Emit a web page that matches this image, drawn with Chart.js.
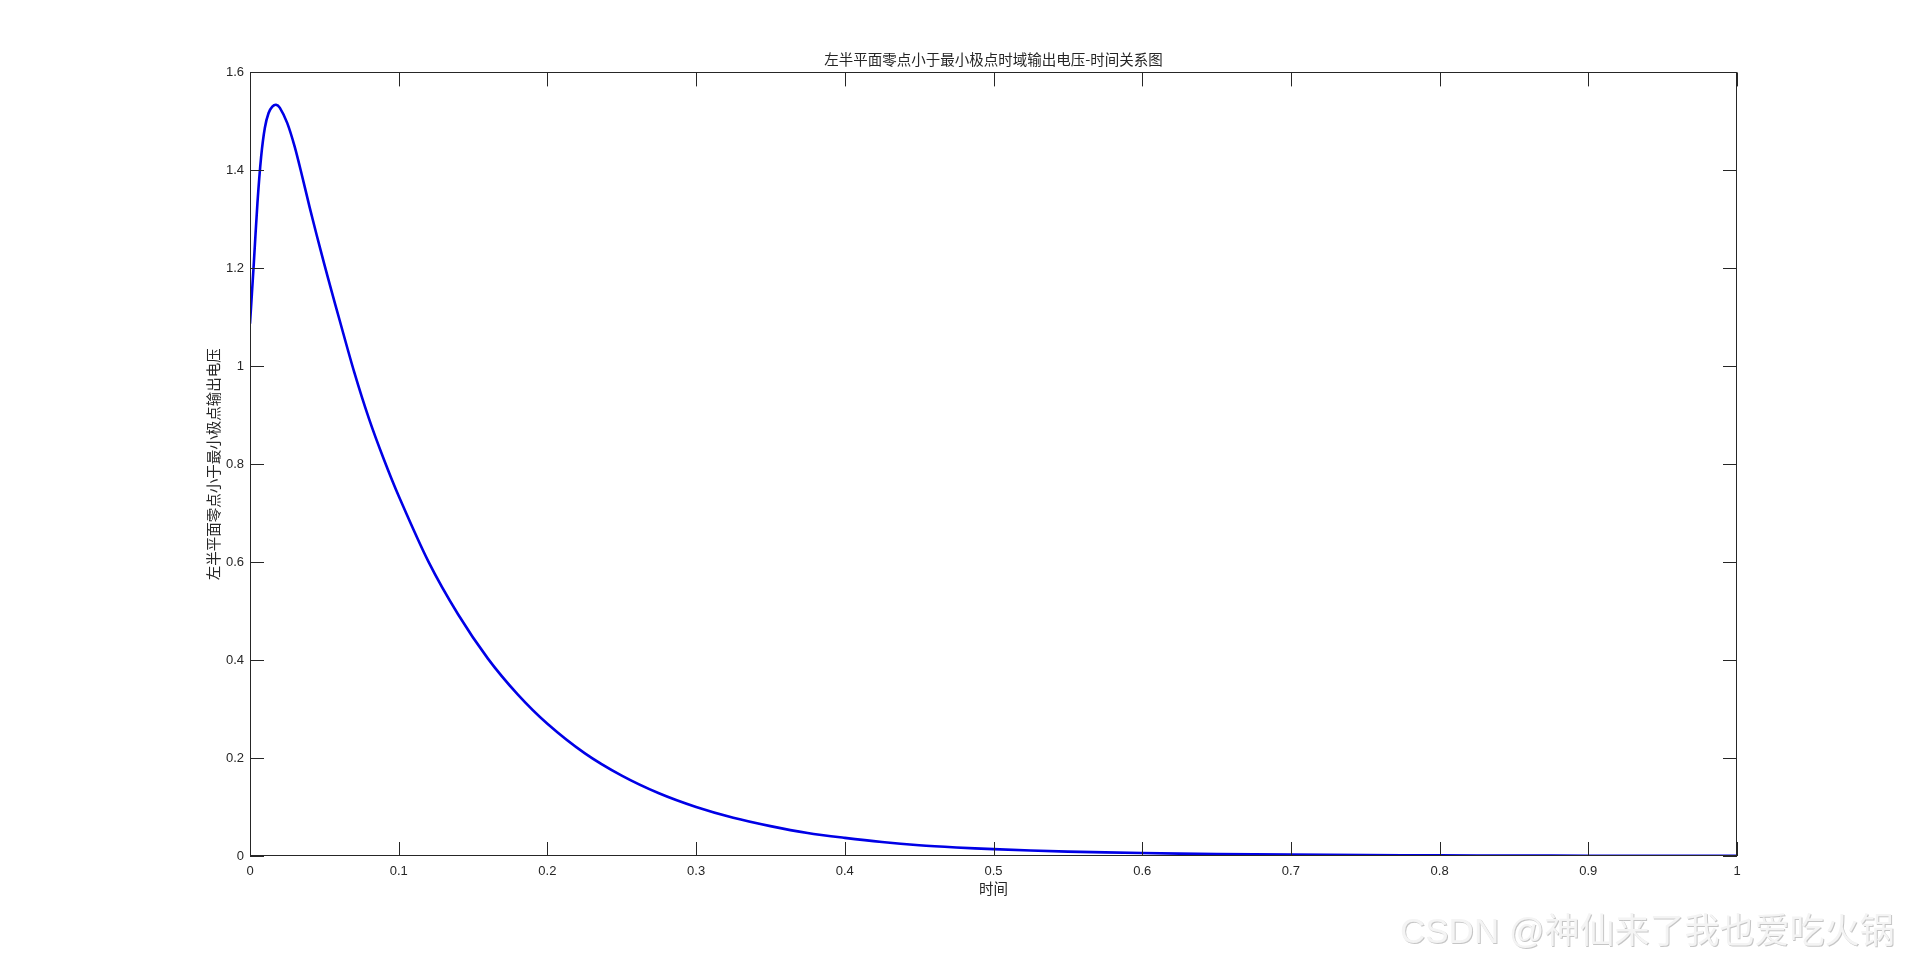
<!DOCTYPE html>
<html>
<head>
<meta charset="utf-8">
<title>左半平面零点小于最小极点时域输出电压-时间关系图</title>
<script src="https://cdn.jsdelivr.net/npm/chart.js@4.4.1/dist/chart.umd.min.js"></script>
<style>
  html, body { margin: 0; padding: 0; background: #fff; overflow: hidden; }
  canvas { display: block; }
</style>
</head>
<body>
<canvas id="voltageChart" width="1920" height="962"></canvas>
<script>
// values (time in s, output voltage)
const timeValues = [0, 0.0025, 0.005, 0.0075, 0.01, 0.0125, 0.015, 0.0175, 0.02, 0.025,
  0.03, 0.035, 0.04, 0.045, 0.05, 0.055, 0.06, 0.07, 0.08, 0.09,
  0.10, 0.12, 0.14, 0.16, 0.18, 0.20, 0.225, 0.25, 0.275, 0.30,
  0.325, 0.35, 0.375, 0.40, 0.425, 0.45, 0.475, 0.50, 0.55, 0.60,
  0.65, 0.70, 0.75, 0.80, 0.85, 0.90, 0.95, 1.0];
const voltageValues = [1.087, 1.207, 1.333, 1.428, 1.487, 1.517, 1.530, 1.534, 1.528, 1.497,
  1.449, 1.389, 1.326, 1.266, 1.208, 1.152, 1.097, 0.989, 0.893, 0.81,
  0.735, 0.601, 0.493, 0.403, 0.330, 0.270, 0.210, 0.164, 0.128, 0.100,
  0.078, 0.061, 0.047, 0.037, 0.0285, 0.022, 0.0175, 0.014, 0.009, 0.006,
  0.004, 0.003, 0.002, 0.0013, 0.0009, 0.0006, 0.0004, 0.0003];
const xTickValues = [0, 0.1, 0.2, 0.3, 0.4, 0.5, 0.6, 0.7, 0.8, 0.9, 1];
const yTickValues = [0, 0.2, 0.4, 0.6, 0.8, 1, 1.2, 1.4, 1.6];

const chartTitle = '左半平面零点小于最小极点时域输出电压-时间关系图';
const xAxisLabel = '时间';
const yAxisLabel = '左半平面零点小于最小极点输出电压';
const watermark = 'CSDN @神仙来了我也爱吃火锅';

const axisColor = '#262626';
const cjkFont = '"Noto Sans CJK SC", sans-serif';
const numFont = '"Liberation Sans", Arial, sans-serif';

// MATLAB style box with inward ticks on all four sides, plus the watermark
const boxPlugin = {
  id: 'matlabBox',
  afterDraw(chart) {
    const { ctx, chartArea: a, scales: { x, y } } = chart;
    const len = 14;
    ctx.save();
    ctx.strokeStyle = axisColor;
    ctx.lineWidth = 1;
    ctx.strokeRect(Math.round(a.left) + 0.5, Math.round(a.top) + 0.5,
      Math.round(a.width) - 1, Math.round(a.height) - 1);
    ctx.beginPath();
    x.ticks.forEach(t => {
      const px = Math.round(x.getPixelForValue(t.value)) + 0.5;
      ctx.moveTo(px, a.bottom); ctx.lineTo(px, a.bottom - len);
      ctx.moveTo(px, a.top); ctx.lineTo(px, a.top + len);
    });
    y.ticks.forEach(t => {
      const py = Math.round(y.getPixelForValue(t.value)) + 0.5;
      ctx.moveTo(a.left, py); ctx.lineTo(a.left + len, py);
      ctx.moveTo(a.right, py); ctx.lineTo(a.right - len, py);
    });
    ctx.stroke();

    // watermark
    ctx.font = '35px "Liberation Sans", ' + cjkFont;
    ctx.textBaseline = 'alphabetic';
    ctx.textAlign = 'left';
    ctx.fillStyle = 'rgba(150,150,150,0.55)';
    ctx.fillText(watermark, 1401, 944);
    ctx.fillStyle = '#f4f4f4';
    ctx.fillText(watermark, 1400, 943);
    ctx.restore();
  }
};

const points = timeValues.map((t, i) => ({ x: t, y: voltageValues[i] }));

new Chart(document.getElementById('voltageChart'), {
  type: 'line',
  data: {
    datasets: [{
      data: points,
      borderColor: '#0000e6',
      borderWidth: 2.6,
      pointRadius: 0,
      fill: false,
      tension: 0.3
    }]
  },
  options: {
    responsive: false,
    animation: false,
    devicePixelRatio: 1,
    layout: { padding: { left: 205, right: 183, top: 51, bottom: 56 } },
    plugins: {
      legend: { display: false },
      tooltip: { enabled: false },
      title: {
        display: true,
        text: chartTitle,
        fullSize: false,
        color: axisColor,
        font: { family: cjkFont, size: 14.5, weight: 'normal' },
        padding: { top: 0, bottom: 4 }
      }
    },
    scales: {
      x: {
        type: 'linear',
        min: 0,
        max: 1,
        afterBuildTicks: scale => { scale.ticks = xTickValues.map(v => ({ value: v })); },
        afterFit: scale => { scale.height = 50; },
        grid: { display: false, drawTicks: false },
        border: { display: false },
        ticks: {
          color: axisColor,
          padding: 8,
          maxRotation: 0,
          font: { family: numFont, size: 13 },
          callback: v => String(Math.round(v * 10) / 10)
        },
        title: {
          display: true,
          text: xAxisLabel,
          color: axisColor,
          font: { family: cjkFont, size: 14.5 },
          padding: { top: 0, bottom: 9 }
        }
      },
      y: {
        type: 'linear',
        min: 0,
        max: 1.6,
        afterBuildTicks: scale => { scale.ticks = yTickValues.map(v => ({ value: v })); },
        afterFit: scale => { scale.width = 45; },
        grid: { display: false, drawTicks: false },
        border: { display: false },
        ticks: {
          color: axisColor,
          padding: 6,
          font: { family: numFont, size: 13 },
          callback: v => String(Math.round(v * 10) / 10)
        },
        title: {
          display: true,
          text: yAxisLabel,
          color: axisColor,
          font: { family: cjkFont, size: 14.5 },
          padding: { top: 0, bottom: 0 }
        }
      }
    }
  },
  plugins: [boxPlugin]
});
</script>
</body>
</html>
